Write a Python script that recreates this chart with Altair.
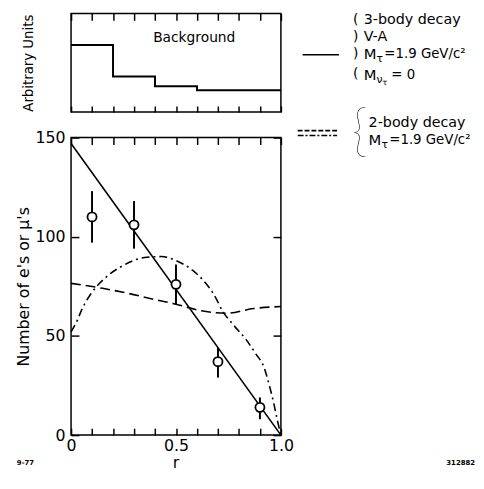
import altair as alt
import pandas as pd

FONT = "DejaVu Sans"

# ---------------- data ----------------
# background histogram (arbitrary units), step edges and levels
bg_r = [0.0, 0.2, 0.4, 0.6, 1.0]
bg_level = [0.68, 0.36, 0.26, 0.22, 0.22]

# measured points with error bars
pt_r = [0.1, 0.3, 0.5, 0.7, 0.9]
pt_n = [110, 106, 76, 37, 14]
pt_lo = [97, 94, 66, 29, 8]
pt_hi = [123, 118, 86, 44, 19]

# 3-body decay, V-A (solid)
va_r = [0.0, 1.0]
va_n = [147, 0]

# dashed curve
dash_r = [0.0, 0.15, 0.27, 0.4, 0.5, 0.62, 0.74, 0.87, 1.0]
dash_n = [76.5, 74, 71.5, 68.3, 66, 62.7, 61.4, 63.8, 64.8]

# dash-dot curve
dd_r = [0.0, 0.03, 0.05, 0.1, 0.16, 0.24, 0.35, 0.43, 0.5, 0.58, 0.63, 0.68,
        0.725, 0.77, 0.835, 0.88, 0.92, 0.945, 0.967, 0.983, 1.0]
dd_n = [52, 58, 63, 72, 79, 85, 89.5, 90, 88, 83, 78, 71,
        62, 56, 48, 41, 34, 25, 15.5, 7.5, 0]

x_ticks = [0.0, 0.1, 0.2, 0.3, 0.4, 0.5, 0.6, 0.7, 0.8, 0.9, 1.0]
y_ticks = [0, 50, 100, 150]

x_title = "r"
y_title_main = "Number of e's or μ's"
y_title_top = "Arbitrary Units"
bg_label = "Background"
note_left = "9-77"
note_right = "312882"

# ---------------- layout ----------------
W, H_TOP, H_MAIN = 213, 100, 302
xs = alt.Scale(domain=[0, 1], nice=False, zero=False)
ys = alt.Scale(domain=[0, 150], nice=False, zero=False)
ys_top = alt.Scale(domain=[0, 1], nice=False, zero=False)

label_expr = ("datum.value == 0 ? '0' : datum.value == 0.5 ? '0.5' : "
              "datum.value == 1 ? '1.0' : ''")


def ann(text, x, y, size, align="left", font=FONT, weight="normal", baseline="middle"):
    return alt.Chart(pd.DataFrame({"t": [text]})).mark_text(
        align=align, baseline=baseline, fontSize=size, font=font,
        fontWeight=weight, color="black"
    ).encode(x=alt.value(x), y=alt.value(y), text="t:N")


def seg(x1, x2, y, dash=None):
    kw = dict(color="black", strokeWidth=1.6)
    if dash:
        kw["strokeDash"] = dash
    return alt.Chart(pd.DataFrame({"a": [0]})).mark_rule(**kw).encode(
        x=alt.value(x1), x2=alt.value(x2), y=alt.value(y))


# ---------------- top panel ----------------
df_bg = pd.DataFrame({"r": bg_r, "v": bg_level})
step = alt.Chart(df_bg).mark_line(
    interpolate="step-after", color="black", strokeWidth=2
).encode(
    x=alt.X("r:Q", scale=xs, axis=alt.Axis(
        orient="bottom", values=x_ticks, labels=False, tickSize=6, offset=-6, title=None)),
    y=alt.Y("v:Q", scale=ys_top, axis=alt.Axis(
        orient="left", ticks=False, labels=False, title=y_title_top,
        titleFontSize=13.5, titlePadding=36)),
)
bg_text = alt.Chart(pd.DataFrame({"r": [0.587], "v": [0.75], "t": [bg_label]})).mark_text(
    fontSize=14, font=FONT, color="black"
).encode(
    x=alt.X("r:Q", scale=xs, axis=alt.Axis(
        orient="top", values=x_ticks, labels=False, tickSize=7, offset=-7, title=None)),
    y=alt.Y("v:Q", scale=ys_top, axis=None),
    text="t:N",
)

LX = 297   # legend text left edge, relative to the top panel's plot area
legend_layers = [
    ann("(", LX - 8, 7, 14, align="center"),
    ann(")", LX - 8, 24, 14, align="center"),
    ann(")", LX - 8, 41, 14, align="center"),
    ann("(", LX - 8, 62, 14, align="center"),
    ann("3-body decay", LX, 7, 14.5),
    ann("V-A", LX, 24, 14.5),
    ann("M", LX, 41, 15),
    ann("τ", LX + 13, 46, 11),
    ann("=1.9 GeV/c²", LX + 21, 41, 13.5),
    ann("M", LX, 63, 15),
    ann("ν", LX + 13, 68, 11),
    ann("τ", LX + 19, 71, 8),
    ann("= 0", LX + 28, 63, 13.5),
    seg(235, 272, 42),
    ann("{", LX - 4, 122, 56, align="center", font="Lato", weight=100),
    ann("2-body decay", LX + 5, 111, 14.5),
    ann("M", LX + 5, 129, 15),
    ann("τ", LX + 18, 134, 11),
    ann("=1.9 GeV/c²", LX + 26, 129, 13.5),
    seg(230, 270, 119, [5, 2]),
    seg(230, 270, 124, [6, 2, 2, 2]),
]

top = alt.layer(step, bg_text, *legend_layers).properties(
    width=W, height=H_TOP
).resolve_axis(x="independent", y="independent")

# ---------------- main panel ----------------
df_va = pd.DataFrame({"r": va_r, "n": va_n})
df_dash = pd.DataFrame({"r": dash_r, "n": dash_n})
df_dd = pd.DataFrame({"r": dd_r, "n": dd_n})
df_pts = pd.DataFrame({"r": pt_r, "n": pt_n, "lo": pt_lo, "hi": pt_hi})

solid = alt.Chart(df_va).mark_line(color="black", strokeWidth=1.6).encode(
    x=alt.X("r:Q", scale=xs, axis=alt.Axis(
        orient="bottom", values=x_ticks, labelExpr=label_expr, labelFlush=False,
        labelOverlap=False, tickSize=7, offset=-7, labelPadding=3, title=None)),
    y=alt.Y("n:Q", scale=ys, axis=alt.Axis(
        orient="left", values=y_ticks, labelFlush=False, labelOverlap=False,
        tickSize=8, offset=-8, labelPadding=6, title=y_title_main, titlePadding=4)),
)
dashed = alt.Chart(df_dash).mark_line(
    color="black", strokeWidth=1.6, strokeDash=[10, 5], interpolate="monotone"
).encode(
    x=alt.X("r:Q", scale=xs, axis=alt.Axis(
        orient="top", values=x_ticks, labels=False, tickSize=7, offset=-7, title=None)),
    y=alt.Y("n:Q", scale=ys, axis=alt.Axis(
        orient="right", values=y_ticks, labels=False, tickSize=8, offset=-8, title=None)),
)
dashdot = alt.Chart(df_dd).mark_line(
    color="black", strokeWidth=1.6, strokeDash=[8, 4, 2, 4], interpolate="monotone"
).encode(
    x=alt.X("r:Q", scale=xs, axis=None),
    y=alt.Y("n:Q", scale=ys, axis=None),
)
errs = alt.Chart(df_pts).mark_rule(color="black", strokeWidth=2).encode(
    x=alt.X("r:Q", scale=xs, axis=None),
    y=alt.Y("lo:Q", scale=ys, axis=None),
    y2="hi:Q",
)
pts = alt.Chart(df_pts).mark_point(
    shape="circle", filled=True, fill="white", stroke="black",
    strokeWidth=1.8, size=85, opacity=1
).encode(
    x=alt.X("r:Q", scale=xs, axis=None),
    y=alt.Y("n:Q", scale=ys, axis=None),
)
extras = [
    ann(x_title, W / 2, H_MAIN + 33, 16, align="center", baseline="alphabetic"),
    ann(note_left, -55, H_MAIN + 28, 7, weight="bold"),
    ann(note_right, 410, H_MAIN + 28, 7, align="right", weight="bold"),
]

main = alt.layer(solid, dashed, dashdot, errs, pts, *extras).properties(
    width=W, height=H_MAIN
).resolve_axis(x="independent", y="independent")

chart = alt.vconcat(
    top, main, spacing=26, bounds="flush",
    padding={"left": 6, "top": 0, "right": 0, "bottom": 0}
).resolve_scale(
    x="independent", y="independent"
).configure_view(
    stroke="black", strokeWidth=1.5
).configure_axis(
    labelFont=FONT, titleFont=FONT, labelFontSize=16, titleFontSize=16,
    labelColor="black", titleColor="black", tickColor="black", tickWidth=1.5,
    grid=False, domain=False, titleFontWeight="normal"
)

chart.save("out.html", embed_options={"renderer": "svg", "actions": False})
